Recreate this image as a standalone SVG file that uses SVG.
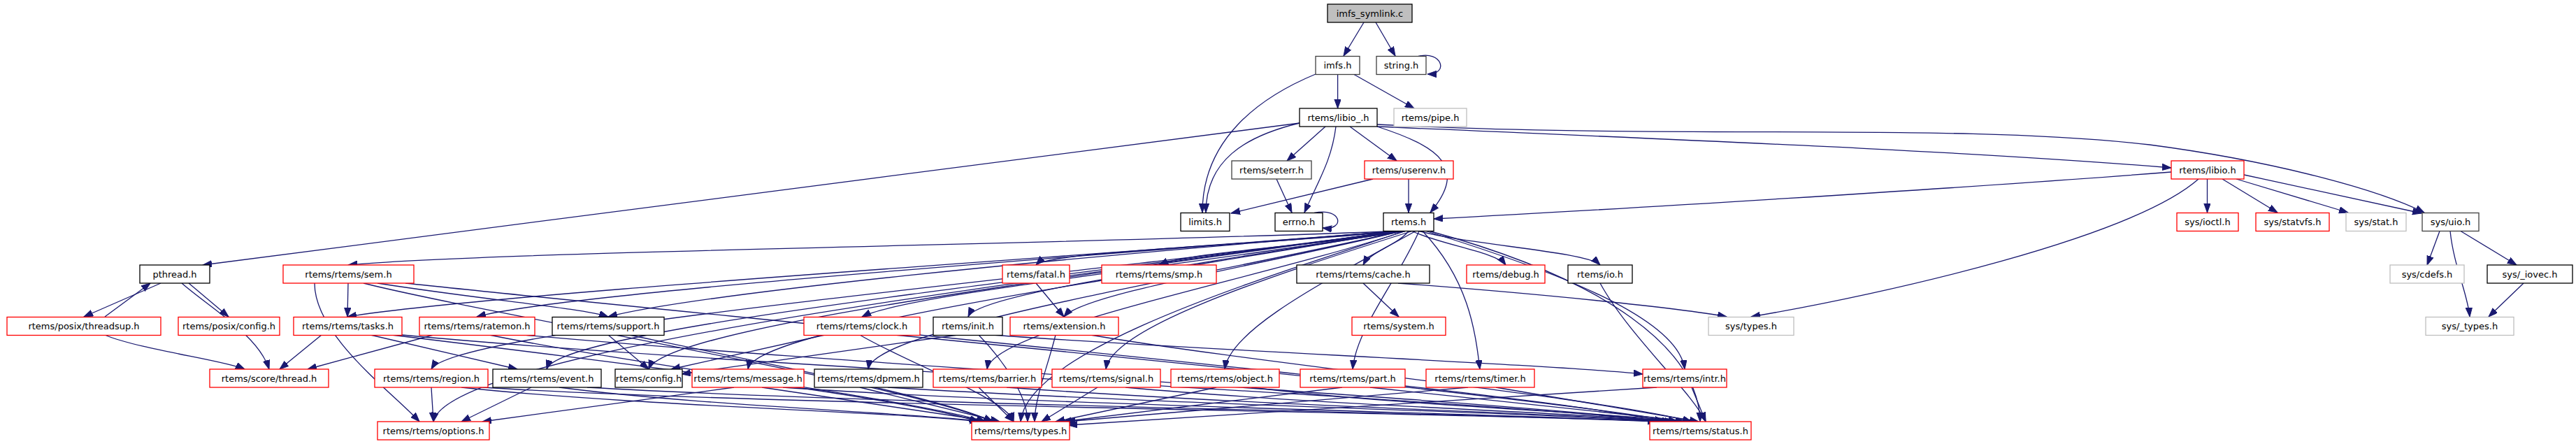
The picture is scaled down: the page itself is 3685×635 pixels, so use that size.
<svg xmlns="http://www.w3.org/2000/svg" width="3685" height="635" viewBox="0 0 3685 635">
<defs>
<marker id="ah" markerUnits="userSpaceOnUse" markerWidth="14" markerHeight="10" refX="13" refY="4.7" orient="auto">
<path d="M0,0 L13,4.7 L0,9.4 z" fill="#191970" stroke="#191970" stroke-width="1"/>
</marker>
<style>
.n rect{fill:#fff;stroke-width:1.3}
.n text{font-family:"DejaVu Sans","Liberation Sans",sans-serif;font-size:13px;text-anchor:middle;fill:#000}
.k rect{stroke:#000}
.g rect{stroke:#404040}
.l rect{stroke:#bfbfbf}
.r rect{stroke:#ff0000}
.e path{fill:none;stroke:#191970;stroke-width:1.3;marker-end:url(#ah)}
</style>
</defs>
<rect width="3685" height="635" fill="#fff"/>
<g class="e" id="edges">
<path d="M1951,32 L1922,80"/>
<path d="M1968,32 L1996,80"/>
<path d="M2029,80.5 C2062,72 2074,106 2042,106"/>
<path d="M1913.6,106.5 L1913.6,155"/>
<path d="M1937,106.5 L2023,155"/>
<path d="M1882,106 C1800,140 1720,200 1720,304"/>
<path d="M1859,176 C1780,195 1725,230 1725,304"/>
<path d="M1859,176 L290,379"/>
<path d="M1896,181 L1841,230"/>
<path d="M1931,181 L1998,230"/>
<path d="M1911,181 C1905,230 1885,260 1866,304"/>
<path d="M1970,181 C2060,210 2100,240 2046,304"/>
<path d="M1970,181 C2400,200 2800,215 3106,240"/>
<path d="M1970,178 C2400,200 2800,175 3075,207 C3250,230 3400,270 3468,304"/>
<path d="M1826,256 L1848,304"/>
<path d="M1964,256 L1761,305"/>
<path d="M2015,256 L2015,304"/>
<path d="M1880,304.5 C1920,296 1925,330 1892,326"/>
<path d="M3106,246 C2800,270 2300,300 2051,313"/>
<path d="M3157.5,256 L3157.5,304"/>
<path d="M3179,256 L3258,304"/>
<path d="M3199,256 L3359,304"/>
<path d="M3210,250 L3464,305"/>
<path d="M3145,256 C3050,340 2700,420 2505,453"/>
<path d="M3490,330.5 L3472,379"/>
<path d="M3520,330.5 L3600,379"/>
<path d="M3505,330.5 C3510,380 3530,420 3533,453"/>
<path d="M3610,405 L3560,453"/>
<path d="M230,405 L120,453"/>
<path d="M150,453 L215,405"/>
<path d="M270,405 L327,453"/>
<path d="M260,405 C300,440 370,480 385,528"/>
<path d="M150,479 C200,500 320,515 350,528"/>
<path d="M2000,330.5 C1500,350 700,360 498,379"/>
<path d="M2000,330.5 C1500,370 700,420 497,453"/>
<path d="M2000,330.5 C1500,370 1000,420 870,453"/>
<path d="M2000,330.5 C1500,370 800,420 682,453"/>
<path d="M2005,330.5 C1700,380 1300,420 1233,453"/>
<path d="M2005,330.5 C1700,380 1400,420 1385,453"/>
<path d="M2005,330.5 C1800,350 1500,360 1482,379"/>
<path d="M2005,330.5 C1800,380 1550,420 1522,453"/>
<path d="M2010,330.5 C1900,350 1700,360 1658,379"/>
<path d="M2015,330.5 C2000,350 1960,360 1950,379"/>
<path d="M2020,330.5 C2060,350 2140,360 2154,379"/>
<path d="M2030,330.5 C2100,350 2270,360 2289,379"/>
<path d="M2040,330.5 C2200,380 2400,450 2410,528"/>
<path d="M2035,330.5 C2100,400 2110,470 2117,528"/>
<path d="M2030,330.5 C2000,400 1940,470 1935,528"/>
<path d="M2025,330.5 C1900,400 1760,470 1752,528"/>
<path d="M2020,330.5 C1800,400 1590,470 1582,528"/>
<path d="M2010,330.5 C1800,400 1420,470 1412,528"/>
<path d="M2005,330.5 C1700,400 1250,470 1242,528"/>
<path d="M2000,330.5 C1600,400 1080,470 1070,528"/>
<path d="M2000,330.5 C1500,400 800,470 782,528"/>
<path d="M2000,330.5 C1500,400 650,470 617,528"/>
<path d="M2000,330.5 C1500,400 640,500 620,603"/>
<path d="M2010,330.5 C1800,400 1470,500 1460,603"/>
<path d="M2045,330.5 C2300,400 2430,500 2432,603"/>
<path d="M2000,330.5 C1500,400 950,470 928,528"/>
<path d="M498,405 L497,453"/>
<path d="M540,405 C700,430 830,440 870,453"/>
<path d="M450,405 C450,480 560,560 600,603"/>
<path d="M520,405 C700,450 1300,550 1420,603"/>
<path d="M580,405 C1000,450 2200,560 2380,603"/>
<path d="M460,479 L400,528"/>
<path d="M530,479 L740,528"/>
<path d="M560,479 C900,520 1300,570 1400,603"/>
<path d="M575,479 C1000,520 2100,570 2380,603"/>
<path d="M870,479 L928,528"/>
<path d="M900,479 C1100,520 1350,570 1420,603"/>
<path d="M620,479 L440,528"/>
<path d="M700,479 C900,520 1300,570 1410,603"/>
<path d="M750,479 C1200,520 2100,570 2390,603"/>
<path d="M1180,479 L960,528"/>
<path d="M1230,479 C1300,520 1440,570 1450,603"/>
<path d="M1280,479 C1700,520 2200,570 2400,603"/>
<path d="M1370,479 L975,535"/>
<path d="M1400,479 C1440,520 1470,570 1470,603"/>
<path d="M1420,479 C1700,500 2200,520 2350,535"/>
<path d="M1482,405 L1522,453"/>
<path d="M1510,479 C1500,520 1480,570 1480,603"/>
<path d="M1560,479 C1800,520 2300,570 2420,603"/>
<path d="M1950,405 L2001,453"/>
<path d="M2000,405 C2200,420 2400,440 2470,453"/>
<path d="M2289,405 C2330,480 2420,560 2440,603"/>
<path d="M617,554 L620,603"/>
<path d="M660,554 C900,580 1300,590 1400,603"/>
<path d="M690,554 C1100,580 2100,590 2370,603"/>
<path d="M760,554 L660,603"/>
<path d="M800,554 C1000,580 1300,590 1410,603"/>
<path d="M840,554 C1300,580 2100,590 2375,603"/>
<path d="M1050,554 L690,603"/>
<path d="M1090,554 L1420,603"/>
<path d="M1120,554 C1500,580 2100,590 2380,603"/>
<path d="M1230,554 L1430,603"/>
<path d="M1270,554 C1700,580 2200,590 2385,603"/>
<path d="M1400,554 L1450,603"/>
<path d="M1440,554 C1800,580 2200,590 2395,603"/>
<path d="M1570,554 L1490,603"/>
<path d="M1610,554 C1900,580 2250,590 2400,603"/>
<path d="M1740,554 L1510,603"/>
<path d="M1790,554 C2000,580 2300,590 2410,603"/>
<path d="M1920,554 L1520,603"/>
<path d="M1960,554 L2420,603"/>
<path d="M2100,554 L1525,603"/>
<path d="M2140,554 L2430,603"/>
<path d="M2370,554 L1528,608"/>
<path d="M2420,554 L2440,603"/>
</g>
<g class="n k" id="n_imfs_symlink_c"><rect x="1899" y="6" width="121" height="26" style="fill:#bfbfbf"/><text x="1959.5" y="23.5">imfs_symlink.c</text></g>
<g class="n g" id="n_imfs_h"><rect x="1882" y="80.5" width="63" height="26"/><text x="1913.5" y="98">imfs.h</text></g>
<g class="n g" id="n_string_h"><rect x="1969" y="80.5" width="71" height="26"/><text x="2004.5" y="98">string.h</text></g>
<g class="n k" id="n_libio__h"><rect x="1859" y="155" width="111" height="26"/><text x="1914.5" y="172.5">rtems/libio_.h</text></g>
<g class="n l" id="n_pipe_h"><rect x="1994" y="155" width="104" height="26"/><text x="2046" y="172.5">rtems/pipe.h</text></g>
<g class="n g" id="n_seterr_h"><rect x="1762" y="230" width="114" height="26"/><text x="1819" y="247.5">rtems/seterr.h</text></g>
<g class="n r" id="n_userenv_h"><rect x="1952" y="230" width="127" height="26"/><text x="2015.5" y="247.5">rtems/userenv.h</text></g>
<g class="n r" id="n_libio_h"><rect x="3106" y="230" width="104" height="26"/><text x="3158" y="247.5">rtems/libio.h</text></g>
<g class="n k" id="n_limits_h"><rect x="1689" y="304.5" width="70" height="26"/><text x="1724" y="322">limits.h</text></g>
<g class="n k" id="n_errno_h"><rect x="1824" y="304.5" width="68" height="26"/><text x="1858" y="322">errno.h</text></g>
<g class="n k" id="n_rtems_h"><rect x="1979" y="304.5" width="72" height="26"/><text x="2015" y="322">rtems.h</text></g>
<g class="n r" id="n_sys_ioctl_h"><rect x="3114" y="304.5" width="88" height="26"/><text x="3158" y="322">sys/ioctl.h</text></g>
<g class="n r" id="n_sys_statvfs_h"><rect x="3227" y="304.5" width="105" height="26"/><text x="3279.5" y="322">sys/statvfs.h</text></g>
<g class="n l" id="n_sys_stat_h"><rect x="3356" y="304.5" width="86" height="26"/><text x="3399" y="322">sys/stat.h</text></g>
<g class="n g" id="n_sys_uio_h"><rect x="3465" y="304.5" width="81" height="26"/><text x="3505.5" y="322">sys/uio.h</text></g>
<g class="n k" id="n_pthread_h"><rect x="200" y="379" width="100" height="26"/><text x="250" y="396.5">pthread.h</text></g>
<g class="n r" id="n_sem_h"><rect x="405" y="379" width="187" height="26"/><text x="498.5" y="396.5">rtems/rtems/sem.h</text></g>
<g class="n r" id="n_fatal_h"><rect x="1434" y="379" width="96" height="26"/><text x="1482" y="396.5">rtems/fatal.h</text></g>
<g class="n r" id="n_smp_h"><rect x="1576" y="379" width="164" height="26"/><text x="1658" y="396.5">rtems/rtems/smp.h</text></g>
<g class="n k" id="n_cache_h"><rect x="1855" y="379" width="190" height="26"/><text x="1950" y="396.5">rtems/rtems/cache.h</text></g>
<g class="n r" id="n_debug_h"><rect x="2098" y="379" width="112" height="26"/><text x="2154" y="396.5">rtems/debug.h</text></g>
<g class="n k" id="n_io_h"><rect x="2243" y="379" width="92" height="26"/><text x="2289" y="396.5">rtems/io.h</text></g>
<g class="n l" id="n_sys_cdefs_h"><rect x="3419" y="379" width="106" height="26"/><text x="3472" y="396.5">sys/cdefs.h</text></g>
<g class="n k" id="n_sys__iovec_h"><rect x="3558" y="379" width="122" height="26"/><text x="3619" y="396.5">sys/_iovec.h</text></g>
<g class="n r" id="n_threadsup_h"><rect x="10" y="453.5" width="220" height="26"/><text x="120" y="471">rtems/posix/threadsup.h</text></g>
<g class="n r" id="n_posix_config_h"><rect x="255" y="453.5" width="145" height="26"/><text x="327.5" y="471">rtems/posix/config.h</text></g>
<g class="n r" id="n_tasks_h"><rect x="420" y="453.5" width="155" height="26"/><text x="497.5" y="471">rtems/rtems/tasks.h</text></g>
<g class="n r" id="n_ratemon_h"><rect x="600" y="453.5" width="165" height="26"/><text x="682.5" y="471">rtems/rtems/ratemon.h</text></g>
<g class="n k" id="n_support_h"><rect x="790" y="453.5" width="160" height="26"/><text x="870" y="471">rtems/rtems/support.h</text></g>
<g class="n r" id="n_clock_h"><rect x="1150" y="453.5" width="166" height="26"/><text x="1233" y="471">rtems/rtems/clock.h</text></g>
<g class="n k" id="n_init_h"><rect x="1335" y="453.5" width="99" height="26"/><text x="1384.5" y="471">rtems/init.h</text></g>
<g class="n r" id="n_extension_h"><rect x="1445" y="453.5" width="155" height="26"/><text x="1522.5" y="471">rtems/extension.h</text></g>
<g class="n r" id="n_system_h"><rect x="1934" y="453.5" width="134" height="26"/><text x="2001" y="471">rtems/system.h</text></g>
<g class="n l" id="n_sys_types_h"><rect x="2444" y="453.5" width="122" height="26"/><text x="2505" y="471">sys/types.h</text></g>
<g class="n l" id="n_sys__types_h"><rect x="3470" y="453.5" width="126" height="26"/><text x="3533" y="471">sys/_types.h</text></g>
<g class="n r" id="n_thread_h"><rect x="300" y="528" width="170" height="26"/><text x="385" y="545.5">rtems/score/thread.h</text></g>
<g class="n r" id="n_region_h"><rect x="536" y="528" width="162" height="26"/><text x="617" y="545.5">rtems/rtems/region.h</text></g>
<g class="n k" id="n_event_h"><rect x="705" y="528" width="155" height="26"/><text x="782.5" y="545.5">rtems/rtems/event.h</text></g>
<g class="n k" id="n_config_h"><rect x="880" y="528" width="96" height="26"/><text x="928" y="545.5">rtems/config.h</text></g>
<g class="n r" id="n_message_h"><rect x="990" y="528" width="160" height="26"/><text x="1070" y="545.5">rtems/rtems/message.h</text></g>
<g class="n k" id="n_dpmem_h"><rect x="1165" y="528" width="155" height="26"/><text x="1242.5" y="545.5">rtems/rtems/dpmem.h</text></g>
<g class="n r" id="n_barrier_h"><rect x="1335" y="528" width="155" height="26"/><text x="1412.5" y="545.5">rtems/rtems/barrier.h</text></g>
<g class="n r" id="n_signal_h"><rect x="1505" y="528" width="155" height="26"/><text x="1582.5" y="545.5">rtems/rtems/signal.h</text></g>
<g class="n r" id="n_object_h"><rect x="1675" y="528" width="155" height="26"/><text x="1752.5" y="545.5">rtems/rtems/object.h</text></g>
<g class="n r" id="n_part_h"><rect x="1860" y="528" width="150" height="26"/><text x="1935" y="545.5">rtems/rtems/part.h</text></g>
<g class="n r" id="n_timer_h"><rect x="2040" y="528" width="155" height="26"/><text x="2117.5" y="545.5">rtems/rtems/timer.h</text></g>
<g class="n r" id="n_intr_h"><rect x="2350" y="528" width="120" height="26"/><text x="2410" y="545.5">rtems/rtems/intr.h</text></g>
<g class="n r" id="n_options_h"><rect x="540" y="603" width="160" height="26"/><text x="620" y="620.5">rtems/rtems/options.h</text></g>
<g class="n r" id="n_types_h"><rect x="1390" y="603" width="140" height="26"/><text x="1460" y="620.5">rtems/rtems/types.h</text></g>
<g class="n r" id="n_status_h"><rect x="2360" y="603" width="145" height="26"/><text x="2432.5" y="620.5">rtems/rtems/status.h</text></g>
</svg>
